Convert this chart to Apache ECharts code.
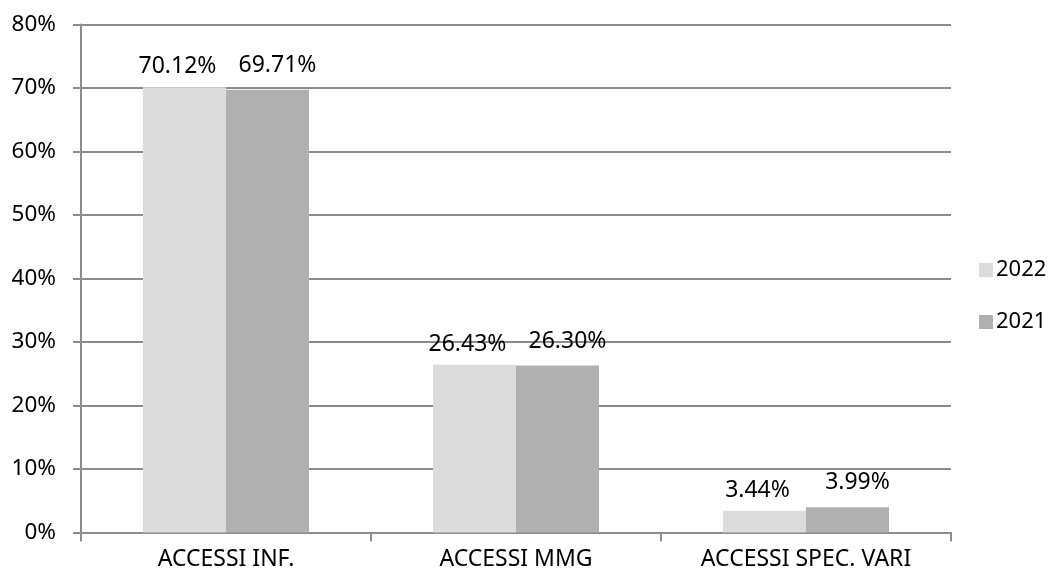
<!DOCTYPE html>
<html>
<head>
<meta charset="utf-8">
<script src="https://cdn.jsdelivr.net/npm/echarts@6/dist/echarts.min.js"></script>
<style>
  html, body { margin: 0; padding: 0; background: #ffffff; }
  #chart { width: 1050px; height: 578px; }
</style>
</head>
<body>
<div id="chart"></div>
<script>
// Share of accesses by type, 2022 vs 2021 (percent)
const categories = ['ACCESSI INF.', 'ACCESSI MMG', 'ACCESSI SPEC. VARI'];
const seriesNames = ['2022', '2021'];
const values2022 = [70.12, 26.43, 3.44];
const values2021 = [69.71, 26.30, 3.99];

const FONT = '"Noto Sans", "Open Sans", sans-serif';
const GRID_GRAY = '#8c8c8c';
const TEXT = '#000000';

const chart = echarts.init(document.getElementById('chart'), null, { renderer: 'canvas' });

function pct(v) { return v.toFixed(2) + '%'; }

chart.setOption({
  animation: false,
  backgroundColor: '#ffffff',
  grid: { left: 81, right: 99, top: 24.5, bottom: 45.5, containLabel: false },
  legend: {
    orient: 'vertical',
    left: 974,
    top: 254,
    itemWidth: 14,
    itemHeight: 14,
    itemGap: 30,
    icon: 'rect',
    textStyle: { fontFamily: FONT, fontSize: 22, color: TEXT, padding: [0, 0, 0, -2] },
    data: seriesNames
  },
  xAxis: {
    type: 'category',
    data: categories,
    boundaryGap: true,
    axisLine: { show: true, lineStyle: { color: GRID_GRAY, width: 2 } },
    axisTick: { show: true, length: 9, alignWithLabel: false, lineStyle: { color: GRID_GRAY, width: 2 } },
    axisLabel: { fontFamily: FONT, fontSize: 23, color: TEXT, margin: 15 }
  },
  yAxis: {
    type: 'value',
    min: 0,
    max: 80,
    interval: 10,
    axisLine: { show: true, lineStyle: { color: GRID_GRAY, width: 2 } },
    axisTick: { show: true, length: 8, lineStyle: { color: GRID_GRAY, width: 2 } },
    splitLine: { show: true, lineStyle: { color: GRID_GRAY, width: 2 } },
    axisLabel: {
      fontFamily: FONT, fontSize: 22.5, color: TEXT, margin: 25,
      formatter: function (v) { return v + '%'; }
    }
  },
  series: [
    {
      name: seriesNames[0],
      type: 'bar',
      data: values2022,
      barWidth: 83,
      barGap: '0%',
      itemStyle: { color: '#dcdcdc' },
      label: {
        show: true, position: 'top', distance: 9, offset: [-7, 0],
        fontFamily: FONT, fontSize: 23, color: TEXT,
        formatter: function (p) { return pct(p.value); }
      }
    },
    {
      name: seriesNames[1],
      type: 'bar',
      data: values2021,
      barWidth: 83,
      barGap: '0%',
      itemStyle: { color: '#b0b0b0' },
      label: {
        show: true, position: 'top', distance: 13, offset: [10, 0],
        fontFamily: FONT, fontSize: 23, color: TEXT,
        formatter: function (p) { return pct(p.value); }
      }
    }
  ]
});
</script>
</body>
</html>
